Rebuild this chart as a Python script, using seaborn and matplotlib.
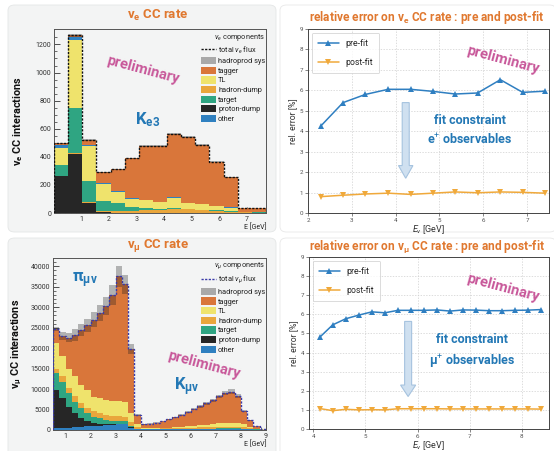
import numpy as np
import pandas as pd
import matplotlib
matplotlib.use("Agg")
import matplotlib.pyplot as plt
from matplotlib.patches import FancyBboxPatch, Patch
from matplotlib.lines import Line2D
import seaborn as sns

W, H = 554, 451

# ---- nu_e CC rate (upper left) ----
e_edges = [0, 0.513, 1.027, 1.54, 2.053, 2.567, 3.08, 3.593, 4.107, 4.62, 5.133, 5.647, 6.16, 6.673, 7.187, 7.7]
e_proton = [260, 420, 72, 4, 2, 1, 1, 1, 1, 1, 0, 0, 0, 0, 0]
e_hadron = [6, 10, 8, 12, 12, 15, 18, 20, 30, 25, 20, 15, 10, 4, 3]
e_target = [75, 320, 150, 70, 58, 30, 16, 10, 5, 5, 4, 3, 2, 1, 1]
e_tl = [119, 480, 250, 124, 80, 55, 55, 45, 72, 40, 40, 32, 26, 3, 1]
e_other = [25, 20, 4, 2, 2, 3, 5, 5, 5, 3, 3, 2, 8, 1, 0]
e_tagger = [10, 15, 36, 78, 156, 286, 380, 394, 452, 466, 418, 313, 209, 26, 30]
e_total = [495, 1265, 520, 290, 310, 390, 475, 475, 565, 540, 485, 365, 255, 35, 35]
e_sys = [6, 12, 6, 4, 4, 5, 6, 6, 7, 7, 6, 5, 4, 1, 1]

# ---- nu_mu CC rate (lower left) ----
m_edges = [0.5 + 0.25 * i for i in range(35)]
m_other = [400, 500, 600, 700, 800, 900, 1000, 1100, 1200, 1300, 1400, 1400, 600, 250,
           200, 200, 200, 200, 200, 200, 200, 250, 250, 300, 300, 300, 350, 350, 350, 350, 300, 200, 100, 50]
m_proton = [9400, 7300, 5100, 3400, 2100, 1200, 700, 400, 300, 200, 150, 100, 50, 0,
            0, 0, 0, 0, 0, 0, 0, 0, 0, 0, 0, 0, 0, 0, 0, 0, 0, 0, 0, 0]
m_target = [4200, 4000, 3300, 2800, 2400, 2100, 1600, 1400, 1000, 800, 700, 600, 400, 100,
            30, 30, 30, 30, 30, 30, 30, 30, 30, 30, 30, 30, 30, 30, 30, 30, 30, 30, 30, 30]
m_hadron = [900, 1300, 1200, 1300, 1200, 1200, 1300, 1200, 1200, 1200, 1200, 1200, 1000, 500,
            100, 100, 100, 150, 150, 200, 200, 200, 250, 300, 300, 350, 400, 400, 400, 400, 350, 200, 100, 20]
m_tl = [6300, 4900, 4700, 4900, 4500, 4500, 3500, 3700, 3600, 3600, 3600, 3500, 2000, 600,
        100, 100, 150, 200, 200, 250, 300, 400, 500, 600, 700, 800, 900, 1000, 1000, 900, 700, 300, 100, 30]
m_tagger = [3600, 5000, 7700, 10100, 13400, 15700, 18900, 20800, 23100, 25900, 30550, 28800, 15750, 2150,
            970, 1070, 1320, 1620, 2020, 2420, 2970, 3520, 4070, 4570, 5170, 5820, 6520, 7220, 7620, 6620, 3220, 1670, 670, 170]
m_total = [24800, 23000, 22600, 23200, 24400, 25600, 27000, 28600, 30400, 33000, 37600, 35600, 19800, 3600,
           1400, 1500, 1800, 2200, 2600, 3100, 3700, 4400, 5100, 5800, 6500, 7300, 8200, 9000, 9400, 8300, 4600, 2400, 1000, 300]
m_sys = [500, 900, 1200, 1400, 1500, 1600, 1800, 2000, 2200, 2400, 2600, 2400, 1300, 250,
         80, 90, 100, 120, 140, 170, 200, 240, 280, 320, 360, 400, 450, 500, 520, 460, 260, 140, 60, 20]

# ---- relative errors ----
e_x = [2.29, 2.8, 3.31, 3.83, 4.34, 4.85, 5.36, 5.87, 6.39, 6.9, 7.41]
e_pre = [4.25, 5.4, 5.8, 6.05, 6.05, 5.95, 5.82, 5.87, 6.52, 5.9, 5.96]
e_post = [0.8, 0.87, 0.93, 0.97, 0.91, 0.97, 1.03, 0.99, 1.03, 1.01, 0.97]

m_x = [4.125, 4.375, 4.625, 4.875, 5.125, 5.375, 5.625, 5.875, 6.125,
       6.375, 6.625, 6.875, 7.125, 7.375, 7.625, 7.875, 8.125, 8.375]
m_pre = [4.8, 5.45, 5.77, 5.96, 6.13, 6.08, 6.21, 6.21, 6.21, 6.23, 6.17, 6.23, 6.22, 6.19, 6.19, 6.21, 6.22, 6.25]
m_post = [1.07, 0.96, 1.03, 1.0, 1.01, 1.0, 1.06, 1.06, 1.06, 1.06, 1.05, 1.05, 1.05, 1.05, 1.05, 1.05, 1.05, 1.04]

comp_names = ["hadroprod sys", "tagger", "TL", "hadron-dump", "target", "proton-dump", "other"]
comp_colors = {"hadroprod sys": "#a9a9a9", "tagger": "#d9763a", "TL": "#efe36c", "hadron-dump": "#e9a63c",
               "target": "#2fa582", "proton-dump": "#262626", "other": "#2f80c0"}
TITLE = "#e0782f"
PINK = "#c8589a"
BLUE = "#2f7fc1"
ORANGE = "#f0a93b"
TXTBLUE = "#2378b5"
PANEL = "#f3f4f4"

sns.set_theme(style="white")
plt.rcParams["font.family"] = ["Roboto", "DejaVu Sans"]
plt.rcParams["mathtext.fontset"] = "custom"
plt.rcParams["mathtext.rm"] = "Roboto"
plt.rcParams["mathtext.it"] = "Roboto:italic"
plt.rcParams["mathtext.bf"] = "Roboto:bold"


def box(l, t, r, b):
    return [l / W, 1 - b / H, (r - l) / W, (b - t) / H]


def fx(x):
    return x / W


def fy(y):
    return 1 - y / H


fig = plt.figure(figsize=(W / 100, H / 100), dpi=100)
fig.patch.set_facecolor("white")

# rounded panel backgrounds
for (l, t, r, b) in [(8, 5, 276, 232), (8, 238, 276, 460)]:
    fig.patches.append(FancyBboxPatch((fx(l), fy(b)), fx(r - l), (b - t) / H,
                                      boxstyle="round,pad=0,rounding_size=0.012",
                                      transform=fig.transFigure, fc=PANEL, ec="#e4e6e6", lw=0.6, zorder=-5))
for (l, t, r, b) in [(280, 5, 556, 232), (280, 238, 556, 460)]:
    fig.patches.append(FancyBboxPatch((fx(l), fy(b)), fx(r - l), (b - t) / H,
                                      boxstyle="round,pad=0,rounding_size=0.012",
                                      transform=fig.transFigure, fc="white", ec="#e8e8e8", lw=0.6, zorder=-5))


def stacked(ax, edges, comps, order, total, sys, line_color):
    centers = [(a + b) / 2 for a, b in zip(edges[:-1], edges[1:])]
    df = pd.concat([pd.DataFrame({"E": centers, "n": v, "src": k}) for k, v in comps.items()],
                   ignore_index=True)
    # seaborn stacks the first hue level on top
    sns.histplot(data=df, x="E", weights="n", hue="src", hue_order=order, palette=comp_colors,
                 bins=list(edges), multiple="stack", element="step", alpha=1, linewidth=0,
                 legend=False, ax=ax)
    ax.stairs(np.add(total, sys), edges, baseline=np.subtract(total, sys), fill=True,
              color="k", alpha=0.3, lw=0, zorder=3)
    ax.stairs(total, edges, color=line_color, ls=(0, (1.6, 1.0)), lw=1.0, zorder=4)


def root_style(ax, xlim, ylim, xmaj, ymaj, xmin, ymin):
    ax.set_facecolor("none")
    ax.set_xlim(*xlim)
    ax.set_ylim(*ylim)
    ax.set_xticks(xmaj)
    ax.set_yticks(ymaj)
    ax.set_xticks(xmin, minor=True)
    ax.set_yticks(ymin, minor=True)
    ax.tick_params(which="major", direction="in", length=4, width=0.6, colors="#333333",
                   labelsize=5, pad=2, left=True, bottom=True)
    ax.tick_params(which="minor", direction="in", length=2, width=0.5, colors="#333333",
                   left=True, bottom=True)
    for s in ax.spines.values():
        s.set_color("#555555")
        s.set_linewidth(0.7)


def comp_legend(ax, flav, line_color, bbox):
    handles = [Line2D([], [], color=line_color, ls=(0, (1.6, 1.0)), lw=1.0)]
    labels = [f"total $\\nu_{{{flav}}}$ flux"]
    for n in comp_names:
        handles.append(Patch(fc=comp_colors[n], ec="none"))
        labels.append(n)
    leg = ax.legend(handles, labels, loc="upper right", bbox_to_anchor=bbox, frameon=False,
                    fontsize=5.3, title=f"$\\nu_{{{flav}}}$ components", title_fontsize=5.3,
                    alignment="right", handlelength=2.0, handleheight=1.15, handletextpad=0.3,
                    labelspacing=0.2, borderaxespad=0.2, borderpad=0.2)
    for t in leg.get_texts():
        t.set_color("#222222")


# ---------------- upper left ----------------
ax1 = fig.add_axes(box(54, 29, 266, 213))
stacked(ax1, e_edges,
        {"tagger": e_tagger, "other": e_other, "TL": e_tl, "target": e_target,
         "hadron-dump": e_hadron, "proton-dump": e_proton},
        ["tagger", "other", "TL", "target", "hadron-dump", "proton-dump"],
        e_total, e_sys, "#111111")
root_style(ax1, (0, 7.7), (0, 1310), range(1, 8), range(0, 1201, 200),
           np.arange(0, 7.7, 0.2), range(0, 1300, 50))
ax1.set_xticklabels([str(i) for i in range(1, 8)])
ax1.set_xlabel("E [GeV]", fontsize=5, loc="right", labelpad=1, color="#222222")
ax1.set_ylabel(r"$\mathbf{\nu_e}$ CC interactions", fontsize=7.8, fontweight="bold", color="#111111")
ax1.yaxis.set_label_coords(-0.135, 0.5)
comp_legend(ax1, "e", "#111111", (1.01, 1.0))
ax1.text(0.42, 0.78, "preliminary", transform=ax1.transAxes, color=PINK, fontsize=10.5,
         fontweight="bold", rotation=-15, ha="center", va="center")
ax1.text(0.44, 0.51, r"$\mathbf{K_{e3}}$", transform=ax1.transAxes, color=TXTBLUE, fontsize=12,
         ha="center", va="center")
fig.text(fx(158), fy(15), r"$\mathbf{\nu_e}$ CC rate", color=TITLE, fontsize=9.5, fontweight="bold",
         ha="center", va="center")

# ---------------- lower left ----------------
ax3 = fig.add_axes(box(53, 258, 266, 430))
stacked(ax3, m_edges,
        {"tagger": m_tagger, "TL": m_tl, "hadron-dump": m_hadron, "target": m_target,
         "proton-dump": m_proton, "other": m_other},
        ["tagger", "TL", "hadron-dump", "target", "proton-dump", "other"],
        m_total, m_sys, "#3a3aa8")
root_style(ax3, (0.5, 9.0), (0, 42050), range(1, 10), range(0, 40001, 5000),
           np.arange(0.6, 9.0, 0.2), range(0, 42000, 1000))
ax3.set_xticklabels([str(i) for i in range(1, 10)])
ax3.set_xlabel("E [GeV]", fontsize=5, loc="right", labelpad=1, color="#222222")
ax3.set_ylabel(r"$\mathbf{\nu_\mu}$ CC interactions", fontsize=7.8, fontweight="bold", color="#111111")
ax3.yaxis.set_label_coords(-0.135, 0.5)
comp_legend(ax3, r"\mu", "#3a3aa8", (1.01, 1.0))
ax3.text(0.71, 0.38, "preliminary", transform=ax3.transAxes, color=PINK, fontsize=10.5,
         fontweight="bold", rotation=-15, ha="center", va="center")
ax3.text(0.15, 0.87, r"$\mathbf{π_{μν}}$", transform=ax3.transAxes, color=TXTBLUE, fontsize=12,
         ha="center", va="center")
ax3.text(0.63, 0.25, r"$\mathbf{K_{μν}}$", transform=ax3.transAxes, color=TXTBLUE, fontsize=12,
         ha="center", va="center")
fig.text(fx(158), fy(245), r"$\mathbf{\nu_\mu}$ CC rate", color=TITLE, fontsize=9.5, fontweight="bold",
         ha="center", va="center")


# ---------------- right panels ----------------
def err_panel(ax, x, pre, post, xlim, xticks, arrow, words, prelim_xy):
    sns.lineplot(x=x, y=pre, marker="^", color=BLUE, markersize=4.5, markeredgewidth=0, lw=1.1,
                 label="pre-fit", ax=ax)
    sns.lineplot(x=x, y=post, marker="v", color=ORANGE, markersize=4.5, markeredgewidth=0, lw=1.1,
                 label="post-fit", ax=ax)
    ax.set_xlim(*xlim)
    ax.set_ylim(0, 9)
    ax.set_xticks(xticks)
    ax.set_yticks(range(0, 10))
    ax.grid(True, color="#cfcfcf", ls=(0, (2, 2)), lw=0.5)
    ax.tick_params(direction="out", length=2, width=0.5, labelsize=4.5, colors="#555555", pad=1.5,
                   left=True, bottom=True)
    for s in ax.spines.values():
        s.set_color("#444444")
        s.set_linewidth(0.7)
    ax.set_xlabel(r"$E_\nu$ [GeV]", fontsize=6.5, color="#333333", labelpad=0)
    ax.set_ylabel("rel. error [%]", fontsize=6.2, color="#333333", labelpad=2)
    leg = ax.legend(loc="upper left", fontsize=6.3, labelspacing=1.2, handlelength=2.4,
                    borderpad=0.7, frameon=True, fancybox=True, edgecolor="#cccccc",
                    borderaxespad=0.4)
    leg.get_frame().set_linewidth(0.6)
    ax_x, y0, y1, bw, hw, hl = arrow
    ax.arrow(ax_x, y0, 0, y1 - y0, width=bw, head_width=hw, head_length=hl, length_includes_head=True,
             fc="#cfe0f0", ec="#a6c3df", lw=0.8, zorder=1)
    ax.text(words[0], words[1], words[2], transform=ax.transAxes, color=TXTBLUE, fontsize=9,
            fontweight="bold", ha="center", va="center", linespacing=1.5)
    ax.text(prelim_xy[0], prelim_xy[1], "preliminary", transform=ax.transAxes, color=PINK,
            fontsize=10.5, fontweight="bold", rotation=-15, ha="center", va="center")


ax2 = fig.add_axes(box(308, 29, 549, 213))
err_panel(ax2, e_x, e_pre, e_post, (2, 7.5), range(2, 8),
          (4.23, 5.4, 1.7, 0.16, 0.33, 0.62),
          (0.67, 0.45, "fit constraint\ne$^{+}$ observables"), (0.81, 0.83))
fig.text(fx(427), fy(17), r"relative error on $\mathbf{\nu_e}$ CC rate : pre and post-fit", color=TITLE,
         fontsize=8.6, fontweight="bold", ha="center", va="center")

ax4 = fig.add_axes(box(309, 257, 549, 429))
err_panel(ax4, m_x, m_pre, m_post, (3.92, 8.52), range(4, 9),
          (5.82, 5.63, 1.7, 0.134, 0.29, 0.6),
          (0.68, 0.45, "fit constraint\nμ$^{+}$ observables"), (0.81, 0.82))
fig.text(fx(427), fy(246), r"relative error on $\mathbf{\nu_\mu}$ CC rate : pre and post-fit", color=TITLE,
         fontsize=8.6, fontweight="bold", ha="center", va="center")

fig.savefig("out.png", dpi=100)
